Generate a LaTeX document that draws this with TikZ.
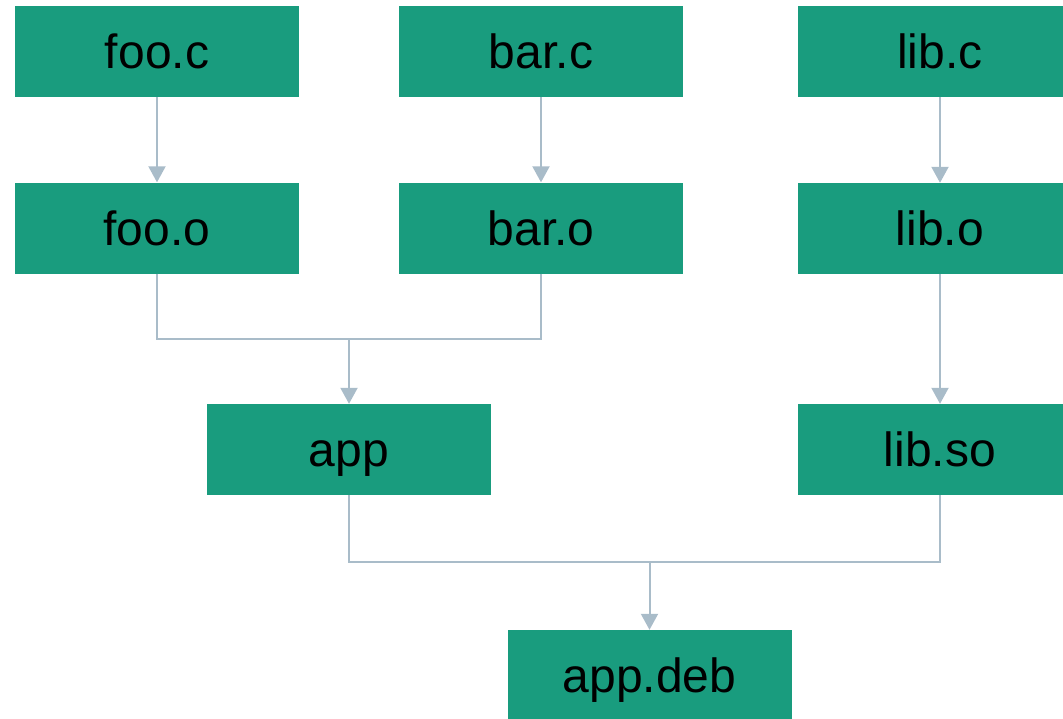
\documentclass[tikz,border=0pt]{standalone}
\usepackage{fontspec}
\setmainfont{Liberation Sans}
\usepackage{tikz}
\usetikzlibrary{arrows.meta}
\definecolor{boxgreen}{HTML}{199C7E}
\definecolor{linkgrey}{HTML}{A9BCC9}
\tikzset{
  artefact/.style={fill=boxgreen, minimum width=284pt, minimum height=91pt, inner sep=0pt,
    text height=34pt, text depth=0pt, font=\fontsize{48}{58}\selectfont},
  link/.style={draw=linkgrey, line width=2pt},
  buildstep/.style={link, -{Triangle[width=17pt,length=16pt]}}
}

\begin{document}
\begin{tikzpicture}[x=1pt, y=-1pt]
        \useasboundingbox (0,0) rectangle (1063,718);
        \clip (0,0) rectangle (1063,718);

        % sources
        \node[artefact] (fooc) at (157,51.5) {foo.c};
        \node[artefact] (barc) at (541,51.5) {bar.c};
        \node[artefact] (libc) at (940,51.5) {lib.c};

        % objects
        \node[artefact] (fooo) at (157,228) {foo.o};
        \node[artefact] (baro) at (541,228) {bar.o};
        \node[artefact] (libo) at (940,228.5) {lib.o};

        % binaries
        \node[artefact] (app) at (349,449.5) {app};
        \node[artefact] (libso) at (940,449.5) {lib.so};
        \node[artefact] (appdeb) at (649.5,675.5) {app.deb};

        \foreach \src/\dst in {fooc/fooo, barc/baro, libc/libo, libo/libso} {
          \draw[buildstep] (\src) -- (\dst);
        }

        \coordinate (joinapp) at (349,339);
        \draw[link] (fooo.south) |- (joinapp);
        \draw[link] (baro.south) |- (joinapp);
        \draw[buildstep] (joinapp) -- (app);

        \coordinate (joindeb) at (649.5,562);
        \draw[link] (app.south) |- (joindeb);
        \draw[link] (libso.south) |- (joindeb);
        \draw[buildstep] (joindeb) -- (appdeb);
      \end{tikzpicture}
\end{document}
